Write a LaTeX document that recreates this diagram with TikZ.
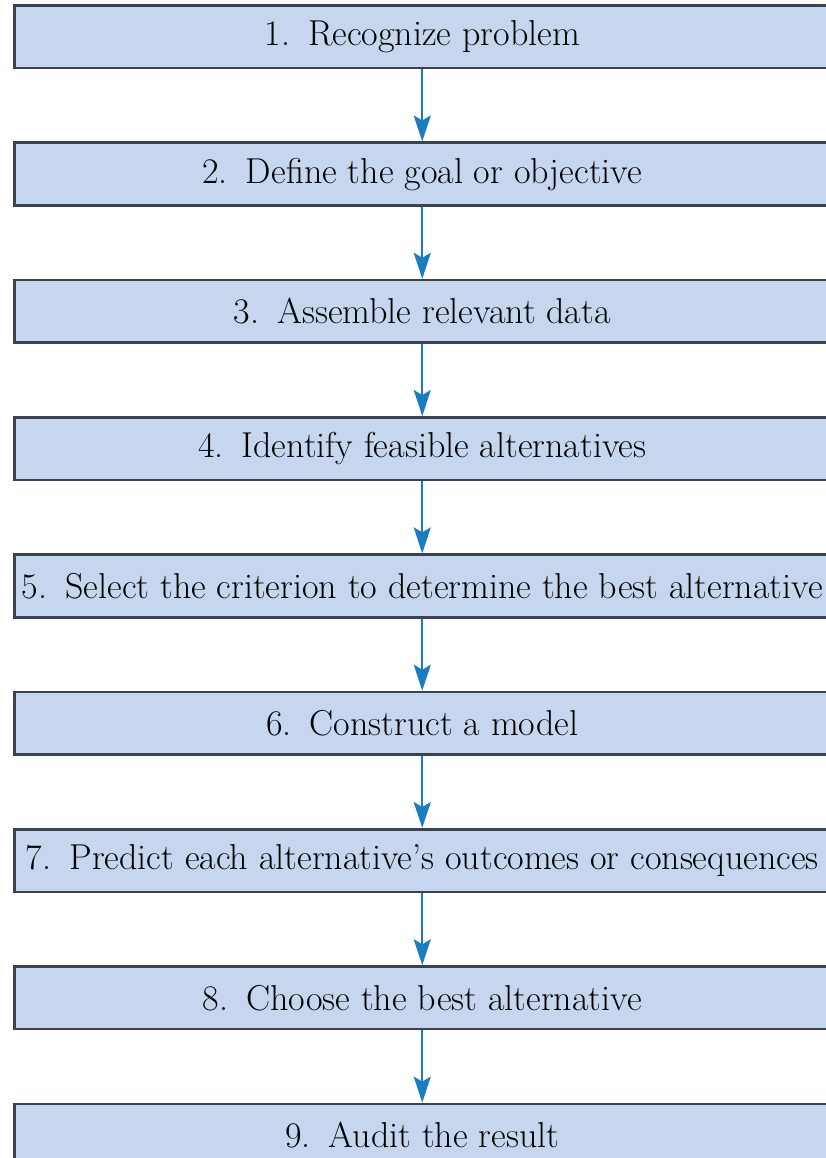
\documentclass[tikz,border=0pt]{standalone}
\usepackage{tikz}
\usetikzlibrary{arrows.meta}

\definecolor{boxfill}{RGB}{198,214,239}
\definecolor{boxline}{RGB}{60,67,80}
\definecolor{arrowblue}{RGB}{26,124,193}

\tikzset{
  stepbox/.style={draw=boxline, line width=2.6pt, fill=boxfill, minimum width=815.5pt, minimum height=62.5pt, inner sep=0pt, font=\fontsize{36}{40}\selectfont},
  flow/.style={draw=arrowblue, line width=2.2pt, -{Stealth[length=26pt,width=17pt,inset=5pt]}}
}

\begin{document}
\begin{tikzpicture}[x=1pt,y=1pt,yscale=-1,xscale=1]
        %set diagram frame to 826 x 1158
        \clip (0,0) rectangle (826,1158);

        % Step boxes
        \node [stepbox] (s1) at (422.25,36.75) {1.\enspace Recognize problem};
        \node [stepbox] (s2) at (422.25,174.05) {2.\enspace Define the goal or objective};
        \node [stepbox] (s3) at (422.25,311.35) {3.\enspace Assemble relevant data};
        \node [stepbox] (s4) at (422.25,448.65) {4.\enspace Identify feasible alternatives};
        \node [stepbox] (s5) at (422.25,585.95) {5.\enspace Select the criterion to determine the best alternative};
        \node [stepbox] (s6) at (422.25,723.25) {6.\enspace Construct a model};
        \node [stepbox] (s7) at (422.25,860.55) {7.\enspace Predict each alternative's outcomes or consequences};
        \node [stepbox] (s8) at (422.25,997.85) {8.\enspace Choose the best alternative};
        \node [stepbox] (s9) at (422.25,1135.15) {9.\enspace Audit the result};

        % Arrows
        \draw [flow] (s1) -- (s2);
        \draw [flow] (s2) -- (s3);
        \draw [flow] (s3) -- (s4);
        \draw [flow] (s4) -- (s5);
        \draw [flow] (s5) -- (s6);
        \draw [flow] (s6) -- (s7);
        \draw [flow] (s7) -- (s8);
        \draw [flow] (s8) -- (s9);

\end{tikzpicture}
\end{document}
